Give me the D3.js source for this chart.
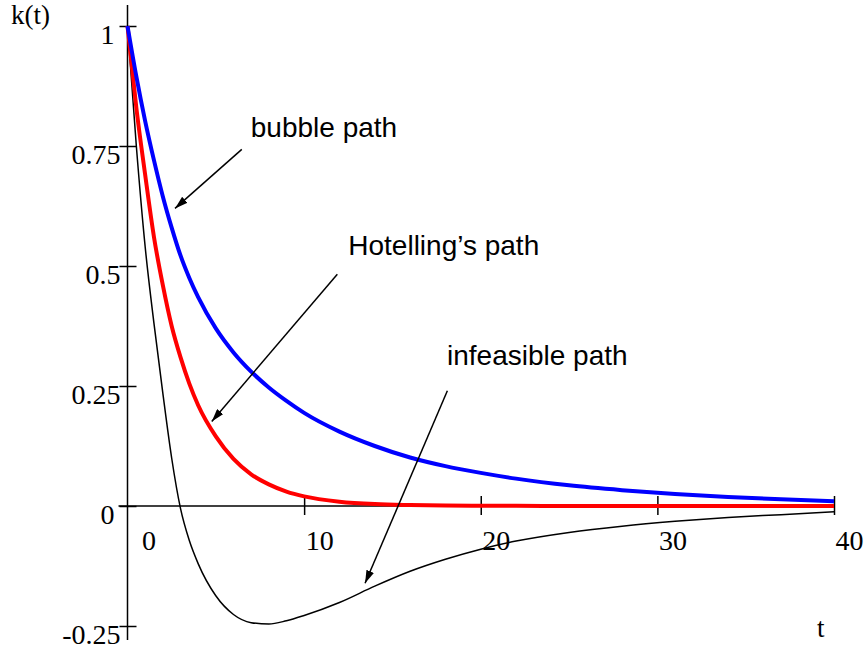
<!DOCTYPE html>
<html>
<head>
<meta charset="utf-8">
<script src="https://cdn.jsdelivr.net/npm/d3@7"></script>
<style>
  html, body { margin: 0; padding: 0; background: #fff; }
  .tick-label { font-family: "Liberation Serif", "Times New Roman", serif; font-size: 28px; fill: #000; }
  .axis-title { font-family: "Liberation Serif", "Times New Roman", serif; font-size: 27px; fill: #000; }
  .note { font-family: "Liberation Sans", Arial, sans-serif; font-size: 28px; fill: #000; }
</style>
</head>
<body>
<svg id="chart" width="868" height="651"></svg>
<script>
// time grid the curves were read at
const tValues = [0, 0.5, 1, 1.5, 2, 2.5, 3, 3.5, 4, 5, 6, 7, 8, 9, 10, 12, 14, 16, 18, 20, 22, 25, 28, 31, 34, 37, 40]

const bubblePath = [1, 0.895, 0.802, 0.72, 0.645, 0.58, 0.522, 0.475, 0.435, 0.37, 0.32, 0.28, 0.247, 0.219, 0.194,
  0.155, 0.125, 0.101, 0.083, 0.069, 0.057, 0.043, 0.033, 0.025, 0.019, 0.014, 0.01]

const hotellingPath = [1, 0.83, 0.69, 0.56, 0.46, 0.375, 0.31, 0.255, 0.21, 0.145, 0.098, 0.066, 0.045, 0.03, 0.02,
  0.009, 0.004, 0.002, 0.001, 0.0006, 0.0003, 0.0001, 0, 0, 0, 0, 0]

const infeasiblePath = [1, 0.75, 0.54, 0.38, 0.235, 0.1, -0.005, -0.072, -0.12, -0.187, -0.226, -0.243, -0.246, -0.239, -0.228,
  -0.201, -0.167, -0.136, -0.111, -0.09, -0.073, -0.055, -0.042, -0.032, -0.024, -0.018, -0.012]

const xTicks = [0, 10, 20, 30, 40]
const yTicks = [-0.25, 0, 0.25, 0.5, 0.75, 1]
const yTickLabels = ['-0.25', '0', '0.25', '0.5', '0.75', '1']

// annotations in data units: label anchor, arrow start, arrow tip
const notes = [
  {text: 'bubble path', label: [6.98, 0.769], from: [6.47, 0.743], to: [2.69, 0.62]},
  {text: 'Hotelling\u2019s path', label: [12.5, 0.523], from: [11.88, 0.483], to: [4.77, 0.176]},
  {text: 'infeasible path', label: [18.09, 0.294], from: [18.11, 0.24], to: [13.45, -0.161]}
]

const $svg = d3.select('#chart')

const xScale = d3.scaleLinear().domain([0, 40]).range([127.5, 834])
const yScale = d3.scaleLinear().domain([-0.25, 1]).range([626, 26])

function drawChart(){
  const $defs = $svg.append('defs')
  $defs.append('marker')
    .attr('id', 'arrow')
    .attr('viewBox', '0 0 13 8')
    .attr('refX', 13)
    .attr('refY', 4)
    .attr('markerWidth', 13)
    .attr('markerHeight', 8)
    .attr('markerUnits', 'userSpaceOnUse')
    .attr('orient', 'auto')
    .append('path')
      .attr('d', 'M0,0 L13,4 L0,8 Z')
      .attr('fill', '#000')

  // axis lines (drawn longer than the tick range like the original)
  const x0 = xScale(0), y0 = yScale(0)
  $svg.append('line')
    .attr('x1', x0).attr('x2', x0)
    .attr('y1', 5).attr('y2', 640)
    .attr('stroke', '#000').attr('stroke-width', 1.5)
  $svg.append('line')
    .attr('x1', x0 - 9).attr('x2', xScale(40))
    .attr('y1', y0).attr('y2', y0)
    .attr('stroke', '#000').attr('stroke-width', 1.5)

  // y axis
  const $yAxis = $svg.append('g')
    .attr('transform', `translate(${x0},0)`)
    .call(d3.axisLeft(yScale).tickValues(yTicks).tickSize(8).tickFormat((d, i) => yTickLabels[i]))
  $yAxis.select('.domain').remove()
  $yAxis.selectAll('.tick line').attr('x1', -8).attr('x2', 9).attr('stroke-width', 1.5)
  $yAxis.selectAll('.tick text')
    .attr('class', 'tick-label')
    .attr('font-family', null).attr('font-size', null)
    .attr('x', (d, i) => yTickLabels[i].length === 1 ? -13 : -7)
    .attr('dy', 17)

  // x axis
  const $xAxis = $svg.append('g')
    .attr('transform', `translate(0,${y0})`)
    .call(d3.axisBottom(xScale).tickValues(xTicks).tickSize(9))
  $xAxis.select('.domain').remove()
  $xAxis.selectAll('.tick line').attr('y1', -10).attr('y2', 9).attr('stroke-width', 1.5)
  $xAxis.selectAll('.tick').filter(d => d === 0).select('line').remove()
  $xAxis.selectAll('.tick text')
    .attr('class', 'tick-label')
    .attr('font-family', null).attr('font-size', null)
    .attr('text-anchor', 'start')
    .attr('x', d => d === 0 ? 14 : 1)
    .attr('y', 44)
    .attr('dy', 0)

  // curves
  const line = d3.line()
    .x((d, i) => xScale(tValues[i]))
    .y(d => yScale(d))
    .curve(d3.curveMonotoneX)

  const series = [
    {values: infeasiblePath, color: '#000000', width: 1.5},
    {values: hotellingPath, color: '#ff0000', width: 4},
    {values: bubblePath, color: '#0000ff', width: 4}
  ]
  $svg.selectAll('.curve')
    .data(series)
    .enter()
    .append('path')
      .attr('class', 'curve')
      .attr('d', d => line(d.values))
      .attr('fill', 'none')
      .attr('stroke', d => d.color)
      .attr('stroke-width', d => d.width)

  // annotations
  $svg.selectAll('.note-arrow')
    .data(notes)
    .enter()
    .append('line')
      .attr('class', 'note-arrow')
      .attr('x1', d => xScale(d.from[0]))
      .attr('y1', d => yScale(d.from[1]))
      .attr('x2', d => xScale(d.to[0]))
      .attr('y2', d => yScale(d.to[1]))
      .attr('stroke', '#000')
      .attr('stroke-width', 1.5)
      .attr('marker-end', 'url(#arrow)')
  $svg.selectAll('.note')
    .data(notes)
    .enter()
    .append('text')
      .attr('class', 'note')
      .attr('x', d => xScale(d.label[0]))
      .attr('y', d => yScale(d.label[1]))
      .text(d => d.text)

  // axis titles
  $svg.append('text')
    .attr('class', 'axis-title')
    .attr('x', 11)
    .attr('y', 24)
    .text('k(t)')
  $svg.append('text')
    .attr('class', 'axis-title')
    .attr('x', 817)
    .attr('y', 637)
    .text('t')
}

function init(){
  drawChart()
}

init()
</script>
</body>
</html>
